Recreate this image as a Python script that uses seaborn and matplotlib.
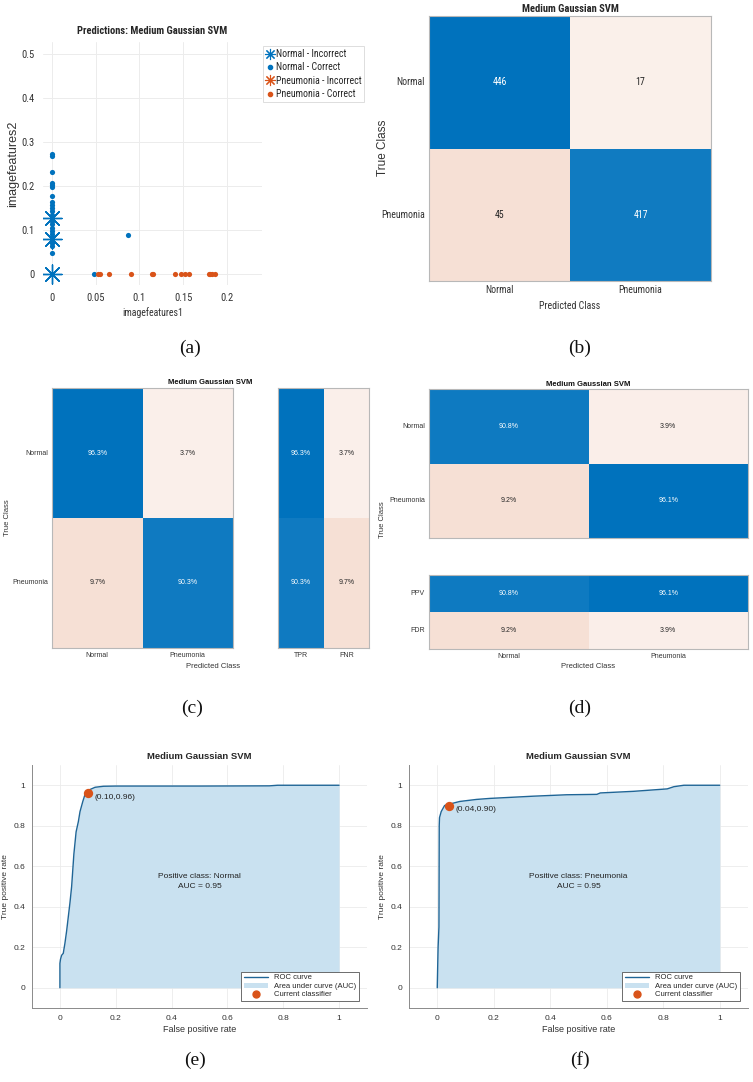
import numpy as np
import pandas as pd
import matplotlib
matplotlib.use("Agg")
import matplotlib.pyplot as plt
import seaborn as sns
from matplotlib import font_manager as fm
from matplotlib.colors import LinearSegmentedColormap
from matplotlib.lines import Line2D
from matplotlib.patches import Patch

# ---------------- data ----------------
# (a) predictions scatter
normal_ok_x = [0] * 24 + [0.048, 0.0875]
normal_ok_y = [0.273, 0.269, 0.231, 0.2075, 0.202, 0.197, 0.178, 0.164, 0.157, 0.149,
               0.142, 0.135, 0.128, 0.12, 0.113, 0.105, 0.098, 0.09, 0.083, 0.075,
               0.07, 0.064, 0.047, 0.0, 0.0, 0.0886]
normal_bad_x = [0, 0, 0]
normal_bad_y = [0.127, 0.08, 0.0]
pneu_ok_x = [0.0526, 0.0545, 0.065, 0.091, 0.114, 0.115, 0.141, 0.148, 0.152, 0.157,
             0.179, 0.181, 0.183, 0.186]
pneu_ok_y = [0.0] * 14
pneu_bad_x = []
pneu_bad_y = []

# (b)-(d) confusion matrices
classes = ["Normal", "Pneumonia"]
counts = [[446, 17], [45, 417]]
row_pct = [[96.3, 3.7], [9.7, 90.3]]
tpr_fnr = [[96.3, 3.7], [90.3, 9.7]]
tpr_cols = ["TPR", "FNR"]
col_pct = [[90.8, 3.9], [9.2, 96.1]]
ppv_fdr = [[90.8, 96.1], [9.2, 3.9]]
ppv_rows = ["PPV", "FDR"]

# (e) ROC, positive class Normal
roc_n_fpr = [0.0, 0.0, 0.002, 0.006, 0.012, 0.018, 0.024, 0.03, 0.036, 0.042, 0.046,
             0.05, 0.058, 0.066, 0.072, 0.082, 0.09, 0.098, 0.108, 0.126, 0.156, 0.2,
             0.5, 0.75, 0.78, 1.0]
roc_n_tpr = [0.0, 0.12, 0.14, 0.16, 0.17, 0.22, 0.28, 0.35, 0.42, 0.50, 0.58,
             0.66, 0.77, 0.82, 0.87, 0.92, 0.955, 0.967, 0.979, 0.99, 0.995, 0.996,
             0.996, 0.997, 1.0, 1.0]
op_n = (0.10, 0.96)

# (f) ROC, positive class Pneumonia
roc_p_fpr = [0.0, 0.003, 0.006, 0.007, 0.008, 0.014, 0.026, 0.038, 0.08, 0.139, 0.186,
             0.34, 0.458, 0.565, 0.577, 0.695, 0.814, 0.838, 0.873, 1.0]
roc_p_tpr = [0.0, 0.2, 0.3, 0.8, 0.84, 0.87, 0.90, 0.905, 0.92, 0.93, 0.935,
             0.946, 0.953, 0.955, 0.962, 0.97, 0.982, 0.993, 1.0, 1.0]
op_p = (0.04, 0.90)

# ---------------- style ----------------
W, H = 753, 1082
BLUE = "#0072BD"
ORANGE = "#D95319"
SANS = ["Liberation Sans", "DejaVu Sans"]
SERIF = ["Liberation Serif", "DejaVu Serif"]

sns.set_theme(style="white")
plt.rcParams["font.family"] = SANS

# narrow font for the MATLAB-style panels (a) and (b), if one is installed
names = {f.name for f in fm.fontManager.ttflist}
condensed = {f.name for f in fm.fontManager.ttflist
             if str(f.stretch) in ("condensed", "semi-condensed", "extra-condensed")}
NK = dict(family=SANS, stretch="normal")
NS = 0.84
if "Liberation Sans Narrow" in names:
    NK = dict(family=["Liberation Sans Narrow", "Liberation Sans"], stretch="normal")
    NS = 1.0
else:
    for cand in ["Roboto Condensed", "Open Sans Condensed", "Roboto", "Open Sans",
                 "Noto Sans", "DejaVu Sans", "Lato", "Inter"]:
        if cand in condensed:
            NK = dict(family=[cand, "DejaVu Sans"], stretch="condensed")
            NS = 0.95
            break

blue_cmap = LinearSegmentedColormap.from_list("mblue", ["#ffffff", BLUE])
pink_cmap = LinearSegmentedColormap.from_list("mpink", ["#fdf9f7", "#f6e0d5"])

fig = plt.figure(figsize=(W / 100, H / 100), dpi=100)


def box(x0, y0, x1, y1):
    return [x0 / W, 1 - y1 / H, (x1 - x0) / W, (y1 - y0) / H]


def ftext(x, y, s, **kw):
    fig.text(x / W, 1 - y / H, s, ha=kw.pop("ha", "center"), va=kw.pop("va", "center"), **kw)


def conf_map(ax, values, rows, cols, blue_mask, fmt, size, fk, ylabels=True):
    df = pd.DataFrame(values, index=rows, columns=cols, dtype=float)
    labels = df.map(lambda v: fmt.format(v))
    blue_mask = np.array(blue_mask)
    vb = df.values[blue_mask].max()
    vp = df.values[~blue_mask].max()
    kws = dict(annot=labels, fmt="", cbar=False, ax=ax, vmin=0,
               annot_kws=dict(size=size, **fk))
    sns.heatmap(df, mask=~blue_mask, cmap=blue_cmap, vmax=vb, **kws)
    sns.heatmap(df, mask=blue_mask, cmap=pink_cmap, vmax=vp, **kws)
    ax.tick_params(length=0, pad=3)
    ax.set_yticklabels(rows if ylabels else [], rotation=0, fontsize=size, color="#333333", **fk)
    ax.set_xticklabels(cols, rotation=0, fontsize=size, color="#333333", **fk)
    for sp in ax.spines.values():
        sp.set_visible(True)
        sp.set_color("#b8b8b8")
        sp.set_linewidth(0.8)


SK = dict(family=SANS)

# ---------------- (a) scatter ----------------
ax = fig.add_axes(box(43, 42, 262, 285))
sns.scatterplot(x=normal_bad_x, y=normal_bad_y, marker=(8, 2, 0), s=190, color=BLUE,
                linewidth=1.0, ax=ax, zorder=3)
sns.scatterplot(x=normal_ok_x, y=normal_ok_y, marker="o", s=14, color=BLUE,
                linewidth=0, ax=ax, zorder=3)
ax.scatter(pneu_bad_x, pneu_bad_y, marker=(8, 2, 0), s=190, color=ORANGE, linewidth=1.0)
sns.scatterplot(x=pneu_ok_x, y=pneu_ok_y, marker="o", s=14, color=ORANGE,
                linewidth=0, ax=ax, zorder=3)
ax.set_xlim(-0.01, 0.24)
ax.set_ylim(-0.025, 0.527)
ax.set_xticks([0, 0.05, 0.1, 0.15, 0.2])
ax.set_xticklabels(["0", "0.05", "0.1", "0.15", "0.2"])
ax.set_yticks([0, 0.1, 0.2, 0.3, 0.4, 0.5])
ax.set_yticklabels(["0", "0.1", "0.2", "0.3", "0.4", "0.5"])
ax.grid(True, color="#ececec", lw=0.7)
for sp in ax.spines.values():
    sp.set_visible(False)
ax.tick_params(axis="both", length=2, width=0.5, color="#999999", labelsize=8 * NS, pad=4,
               labelcolor="#333333")
for t in ax.get_xticklabels() + ax.get_yticklabels():
    t.set_family(NK["family"])
    t.set_stretch(NK["stretch"])
ax.set_xlabel("imagefeatures1", fontsize=7.5 * NS, color="#333333", labelpad=3, **NK)
ax.set_ylabel("imagefeatures2", fontsize=9, color="#333333", labelpad=2, **SK)
ax.set_title("Predictions: Medium Gaussian SVM", fontsize=8 * NS, fontweight="bold",
             pad=6, **NK)
hs = [Line2D([], [], ls="", marker=(8, 2, 0), ms=8, mew=0.8, color=BLUE),
      Line2D([], [], ls="", marker="o", ms=3, color=BLUE),
      Line2D([], [], ls="", marker=(8, 2, 0), ms=8, mew=0.8, color=ORANGE),
      Line2D([], [], ls="", marker="o", ms=3, color=ORANGE)]
leg = fig.legend(hs, ["Normal - Incorrect", "Normal - Correct", "Pneumonia - Incorrect",
                      "Pneumonia - Correct"],
                 loc="upper left", bbox_to_anchor=(263 / W, 1 - 46 / H),
                 prop=fm.FontProperties(size=7.5 * NS, **NK), handlelength=0.8,
                 handletextpad=0.2, borderpad=0.3, labelspacing=0.35, frameon=True,
                 fancybox=False, borderaxespad=0)
leg.get_frame().set_edgecolor("#cfcfcf")
leg.get_frame().set_linewidth(0.6)

# ---------------- (b) counts ----------------
ax = fig.add_axes(box(429, 16, 711, 281))
conf_map(ax, counts, classes, classes, [[True, False], [False, True]], "{:.0f}",
         7.5 * NS, NK)
ax.set_title("Medium Gaussian SVM", fontsize=8 * NS, fontweight="bold", pad=3, **NK)
ftext(383, 148, "True Class", rotation=90, fontsize=8.5, color="#333333", **SK)
ftext(570, 306, "Predicted Class", fontsize=7.5 * NS, color="#333333", **NK)

# ---------------- (c) row normalised ----------------
ax = fig.add_axes(box(52, 388, 233, 648))
conf_map(ax, row_pct, classes, classes, [[True, False], [False, True]], "{:.1f}%", 5, SK)
ax2 = fig.add_axes(box(278, 388, 369, 648))
conf_map(ax2, tpr_fnr, classes, tpr_cols, [[True, False], [True, False]], "{:.1f}%", 5, SK,
         ylabels=False)
ftext(210, 383, "Medium Gaussian SVM", fontsize=5.5, fontweight="bold", color="#111111")
ftext(8, 518, "True Class", rotation=90, fontsize=5.5, color="#333333")
ftext(213, 667, "Predicted Class", fontsize=5.5, color="#333333")

# ---------------- (d) column normalised ----------------
ax = fig.add_axes(box(429, 389, 748, 538))
conf_map(ax, col_pct, classes, classes, [[True, False], [False, True]], "{:.1f}%", 5, SK)
ax.set_xticklabels([])
ax3 = fig.add_axes(box(429, 575, 748, 649))
conf_map(ax3, ppv_fdr, ppv_rows, classes, [[True, True], [False, False]], "{:.1f}%", 5, SK)
ftext(588, 385, "Medium Gaussian SVM", fontsize=5.5, fontweight="bold", color="#111111")
ftext(383, 520, "True Class", rotation=90, fontsize=5.5, color="#333333")
ftext(588, 667, "Predicted Class", fontsize=5.5, color="#333333")


# ---------------- (e), (f) ROC ----------------
def roc_panel(ax, fpr, tpr, op, cls):
    ax.fill_between(fpr, tpr, color="#c9e1f0", lw=0, zorder=1)
    sns.lineplot(x=fpr, y=tpr, sort=False, estimator=None, color="#1f6596", lw=1.0,
                 ax=ax, zorder=2)
    sns.scatterplot(x=[op[0]], y=[op[1]], color=ORANGE, s=45, linewidth=0, ax=ax, zorder=4)
    ax.text(op[0] + 0.025, op[1] - 0.02, "({:.2f},{:.2f})".format(*op), fontsize=6,
            va="center", ha="left", color="#222222")
    ax.text(0.5, 0.55, "Positive class: " + cls, fontsize=6, ha="center", va="center",
            color="#222222")
    ax.text(0.5, 0.50, "AUC = 0.95", fontsize=6, ha="center", va="center", color="#222222")
    ax.set_xlim(-0.1, 1.1)
    ax.set_ylim(-0.1, 1.1)
    ax.set_xticks([0, 0.2, 0.4, 0.6, 0.8, 1])
    ax.set_xticklabels(["0", "0.2", "0.4", "0.6", "0.8", "1"])
    ax.set_yticks([0, 0.2, 0.4, 0.6, 0.8, 1])
    ax.set_yticklabels(["0", "0.2", "0.4", "0.6", "0.8", "1"])
    ax.grid(True, color="#ebebeb", lw=0.6)
    ax.set_axisbelow(True)
    for side in ["top", "right"]:
        ax.spines[side].set_visible(False)
    for side in ["left", "bottom"]:
        ax.spines[side].set_color("#8a8a8a")
        ax.spines[side].set_linewidth(0.7)
    ax.tick_params(length=0, labelsize=6, labelcolor="#333333", pad=5)
    ax.set_xlabel("False positive rate", fontsize=6.5, color="#333333", labelpad=2)
    ax.set_ylabel("True positive rate", fontsize=6, color="#333333", labelpad=3)
    ax.set_title("Medium Gaussian SVM", fontsize=6.8, fontweight="bold", pad=4)
    hs = [Line2D([], [], color="#1f6596", lw=1.0),
          Patch(facecolor="#c9e1f0", edgecolor="none"),
          Line2D([], [], ls="", marker="o", ms=5, color=ORANGE)]
    lg = ax.legend(hs, ["ROC curve", "Area under curve (AUC)", "Current classifier"],
                   loc="lower right", bbox_to_anchor=(0.975, 0.03), fontsize=5.5,
                   fancybox=False, framealpha=1, borderpad=0.3, labelspacing=0.15,
                   handlelength=3.2, handletextpad=0.8, borderaxespad=0)
    lg.get_frame().set_edgecolor("#555555")
    lg.get_frame().set_linewidth(0.6)


ax = fig.add_axes(box(32, 765, 367, 1008))
roc_panel(ax, roc_n_fpr, roc_n_tpr, op_n, "Normal")
ax = fig.add_axes(box(409, 765, 748, 1008))
roc_panel(ax, roc_p_fpr, roc_p_tpr, op_p, "Pneumonia")

# ---------------- sub-figure labels ----------------
for x, y, s in [(190, 348, "(a)"), (580, 348, "(b)"), (192, 708, "(c)"), (580, 708, "(d)"),
                (195, 1060, "(e)"), (580, 1060, "(f)")]:
    ftext(x, y, s, fontsize=14, family=SERIF, color="#111111")

fig.savefig("out.png", dpi=100, facecolor="white")
